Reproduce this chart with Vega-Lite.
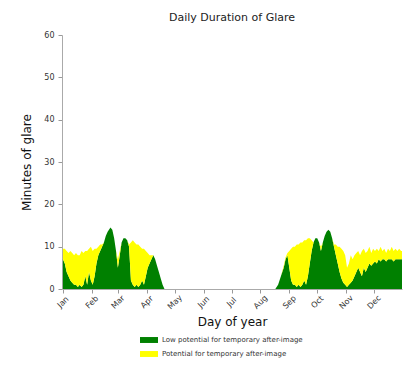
{
  "$schema": "https://vega.github.io/schema/vega-lite/v6.json",
  "width": 340,
  "height": 254,
  "autosize": "none",
  "padding": {"left": 62, "top": 35, "right": 4, "bottom": 82},
  "background": "white",
  "title": {"text": "Daily Duration of Glare", "fontSize": 11, "fontWeight": "normal", "font": "DejaVu Sans", "color": "#222", "anchor": "middle", "offset": 8},
  "config": {"view": {"stroke": null}, "font": "DejaVu Sans"},
  "data": {"values": [
    {"day":1,"low":7,"pot":2.5},{"day":3,"low":6,"pot":3.5},{"day":5,"low":4,"pot":5},{"day":7,"low":3,"pot":5.5},
    {"day":9,"low":2,"pot":7},{"day":11,"low":1.5,"pot":7},{"day":13,"low":1,"pot":7},{"day":15,"low":1,"pot":7.5},
    {"day":17,"low":0.5,"pot":7.5},{"day":19,"low":1,"pot":7},{"day":21,"low":0.5,"pot":8.5},{"day":23,"low":1,"pot":7.5},
    {"day":25,"low":3,"pot":6},{"day":27,"low":1,"pot":8},{"day":29,"low":4,"pot":5.5},{"day":31,"low":2,"pot":8},
    {"day":33,"low":1,"pot":8},{"day":35,"low":3,"pot":6.5},{"day":37,"low":6,"pot":3.5},{"day":39,"low":8,"pot":2},
    {"day":41,"low":9,"pot":1.5},{"day":43,"low":10,"pot":0.5},{"day":45,"low":11,"pot":0},{"day":47,"low":12.5,"pot":0},
    {"day":49,"low":13.5,"pot":0},{"day":52,"low":14.5,"pot":0},{"day":54,"low":14,"pot":0},{"day":56,"low":12,"pot":0},
    {"day":58,"low":9,"pot":0},{"day":60,"low":5,"pot":2},{"day":62,"low":8,"pot":1},{"day":64,"low":11,"pot":0},
    {"day":66,"low":12,"pot":0},{"day":68,"low":12,"pot":0},{"day":70,"low":11.5,"pot":0},{"day":72,"low":10,"pot":0.5},
    {"day":74,"low":2,"pot":9},{"day":76,"low":1,"pot":10.5},{"day":78,"low":0.5,"pot":10.5},{"day":80,"low":1,"pot":9.5},
    {"day":82,"low":0.5,"pot":10},{"day":84,"low":1,"pot":9},{"day":86,"low":2,"pot":7.5},{"day":88,"low":1,"pot":8.5},
    {"day":90,"low":3,"pot":6},{"day":92,"low":5,"pot":3.5},{"day":94,"low":6,"pot":2},{"day":96,"low":7,"pot":1},
    {"day":98,"low":8,"pot":0},{"day":100,"low":7,"pot":0},{"day":102,"low":5.5,"pot":0},{"day":104,"low":4,"pot":0},
    {"day":106,"low":2.5,"pot":0},{"day":108,"low":1,"pot":0},{"day":110,"low":0,"pot":0},
    {"day":229,"low":0,"pot":0},{"day":232,"low":1,"pot":0},{"day":235,"low":3,"pot":0},{"day":238,"low":5,"pot":0.5},
    {"day":240,"low":7,"pot":0.5},{"day":242,"low":8,"pot":0.5},{"day":244,"low":5,"pot":4},{"day":246,"low":2,"pot":7.5},
    {"day":248,"low":1,"pot":9},{"day":250,"low":1,"pot":9},{"day":252,"low":0.5,"pot":10},{"day":254,"low":1,"pot":9.5},
    {"day":256,"low":0.5,"pot":10.5},{"day":258,"low":1,"pot":10},{"day":260,"low":2,"pot":9.5},{"day":262,"low":1,"pot":10.5},
    {"day":264,"low":3,"pot":9},{"day":266,"low":6,"pot":6},{"day":268,"low":9,"pot":2.5},{"day":270,"low":11,"pot":0},
    {"day":272,"low":12,"pot":0},{"day":274,"low":12,"pot":0},{"day":276,"low":11,"pot":0},{"day":278,"low":9,"pot":1},
    {"day":280,"low":11,"pot":0},{"day":282,"low":12.5,"pot":0},{"day":284,"low":13.5,"pot":0},{"day":286,"low":14,"pot":0},
    {"day":288,"low":13.5,"pot":0},{"day":290,"low":12,"pot":0},{"day":292,"low":10,"pot":0.5},{"day":294,"low":8,"pot":2.5},
    {"day":296,"low":6,"pot":4},{"day":298,"low":4,"pot":6},{"day":300,"low":2.5,"pot":7},{"day":302,"low":1.5,"pot":7.5},
    {"day":304,"low":1,"pot":7},{"day":306,"low":0.5,"pot":4.5},{"day":308,"low":1,"pot":5},{"day":310,"low":1.5,"pot":6.5},
    {"day":312,"low":2,"pot":5},{"day":314,"low":3,"pot":5},{"day":316,"low":4,"pot":4.5},{"day":318,"low":5,"pot":4},
    {"day":320,"low":4,"pot":4},{"day":322,"low":3,"pot":6},{"day":324,"low":5,"pot":4.5},{"day":326,"low":4,"pot":4.5},
    {"day":328,"low":5,"pot":4},{"day":330,"low":6,"pot":4},{"day":332,"low":5.5,"pot":3},{"day":334,"low":6,"pot":3.5},
    {"day":336,"low":6.5,"pot":2.5},{"day":338,"low":6,"pot":3.5},{"day":340,"low":7,"pot":2},{"day":342,"low":6.5,"pot":3.5},
    {"day":344,"low":7,"pot":2},{"day":346,"low":7,"pot":2.5},{"day":348,"low":6.5,"pot":2},{"day":350,"low":7,"pot":2.5},
    {"day":352,"low":7,"pot":2},{"day":354,"low":7,"pot":3},{"day":356,"low":6.5,"pot":2.5},{"day":358,"low":7,"pot":2.5},
    {"day":360,"low":7,"pot":2},{"day":362,"low":7,"pot":2.5},{"day":364,"low":7,"pot":2},{"day":365,"low":7,"pot":2}
  ]},
  "transform": [
    {"fold": ["low", "pot"], "as": ["key", "minutes"]},
    {"lookup": "key", "from": {"data": {"values": [
      {"key": "low", "type": "Low potential for temporary after-image", "ord": 0},
      {"key": "pot", "type": "Potential for temporary after-image", "ord": 1}
    ]}, "key": "key", "fields": ["type", "ord"]}}
  ],
  "mark": {"type": "area", "interpolate": "linear"},
  "encoding": {
    "x": {
      "field": "day", "type": "quantitative",
      "scale": {"domain": [0, 365], "nice": false, "zero": false},
      "axis": {
        "title": "Day of year", "titleFontSize": 12, "titleFontWeight": "normal", "titleColor": "#111", "titlePadding": 6,
        "values": [1, 32, 60, 91, 121, 152, 182, 213, 244, 274, 305, 335],
        "labelExpr": "['Jan','Feb','Mar','Apr','May','Jun','Jul','Aug','Sep','Oct','Nov','Dec'][indexof([1,32,60,91,121,152,182,213,244,274,305,335], datum.value)]",
        "labelAngle": -45, "labelAlign": "center", "labelBaseline": "middle", "labelPadding": 9,
        "labelFontSize": 8, "labelColor": "#333", "tickColor": "#999", "domainColor": "#aaa", "tickSize": 4, "grid": false
      }
    },
    "y": {
      "field": "minutes", "type": "quantitative", "stack": "zero",
      "scale": {"domain": [0, 60], "nice": false},
      "axis": {
        "title": "Minutes of glare", "titleFontSize": 12, "titleFontWeight": "normal", "titleColor": "#111", "titlePadding": 10,
        "values": [0, 10, 20, 30, 40, 50, 60], "labelFontSize": 8, "labelColor": "#333", "labelPadding": 4,
        "tickColor": "#999", "domainColor": "#aaa", "tickSize": 4, "grid": false
      }
    },
    "color": {
      "field": "type", "type": "nominal",
      "scale": {"domain": ["Low potential for temporary after-image", "Potential for temporary after-image"], "range": ["#008000", "#ffff00"]},
      "legend": {
        "title": null, "orient": "none", "legendX": 78, "legendY": 296, "direction": "vertical",
        "symbolType": "M-1,-0.33H1V0.33H-1Z", "symbolSize": 324, "symbolStrokeWidth": 0,
        "labelFontSize": 7, "labelColor": "#333", "rowPadding": 2, "labelOffset": 4
      }
    },
    "order": {"field": "ord", "type": "quantitative"}
  }
}
